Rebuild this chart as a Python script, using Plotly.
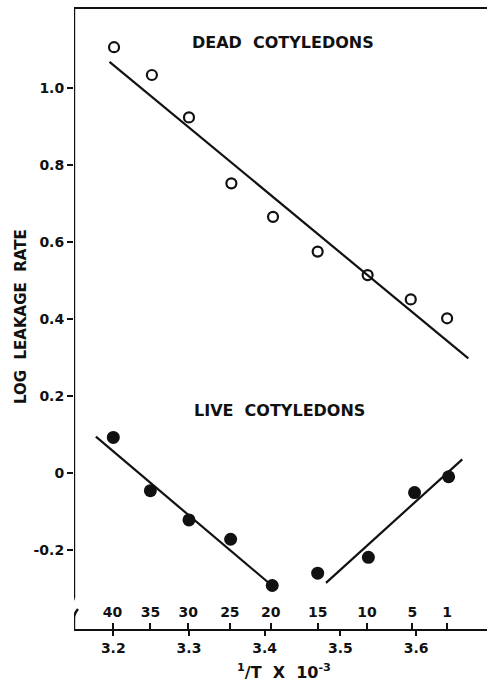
import plotly.graph_objects as go

# ---- data ----
temp_labels = ["40", "35", "30", "25", "20", "15", "10", "5", "1"]
temp_pos = [3.199, 3.249, 3.299, 3.354, 3.408, 3.470, 3.535, 3.595, 3.641]

inv_t_ticks = [3.2, 3.3, 3.4, 3.5, 3.6]
inv_t_labels = ["3.2", "3.3", "3.4", "3.5", "3.6"]

y_ticks = [-0.2, 0, 0.2, 0.4, 0.6, 0.8, 1.0]
y_labels = ["-0.2", "0", "0.2", "0.4", "0.6", "0.8", "1.0"]

dead_x = [3.201, 3.251, 3.300, 3.356, 3.411, 3.470, 3.536, 3.593, 3.641]
dead_y = [1.105, 1.033, 0.923, 0.752, 0.665, 0.575, 0.514, 0.451, 0.402]

live_x = [3.200, 3.249, 3.300, 3.355, 3.410, 3.470, 3.537, 3.598, 3.643]
live_y = [0.093, -0.045, -0.121, -0.171, -0.291, -0.259, -0.218, -0.050, -0.009]

dead_fit_x = [3.195, 3.669]
dead_fit_y = [1.067, 0.298]
live_fit1_x = [3.177, 3.404]
live_fit1_y = [0.095, -0.282]
live_fit2_x = [3.481, 3.661]
live_fit2_y = [-0.284, 0.036]

# ---- layout geometry ----
W, H = 487, 688
ML, MR, MT, MB = 74, 0, 9, 59
XR = [3.1481, 3.6937]
YR = [-0.4038, 1.2041]
pw, ph = W - ML - MR, H - MT - MB

def px2x(px):
    return XR[0] + (px - ML) / pw * (XR[1] - XR[0])

def px2y(py):
    return YR[1] - (py - MT) / ph * (YR[1] - YR[0])

def px2paper_y(py):
    return (H - MB - py) / ph

FONT = "DejaVu Sans"
BLACK = "#111111"

fig = go.Figure()

line_style = dict(color=BLACK, width=2.2)
fig.add_trace(go.Scatter(x=dead_fit_x, y=dead_fit_y, mode="lines", line=line_style, hoverinfo="skip"))
fig.add_trace(go.Scatter(x=live_fit1_x, y=live_fit1_y, mode="lines", line=line_style, hoverinfo="skip"))
fig.add_trace(go.Scatter(x=live_fit2_x, y=live_fit2_y, mode="lines", line=line_style, hoverinfo="skip"))

fig.add_trace(go.Scatter(
    x=dead_x, y=dead_y, mode="markers", name="Dead cotyledons",
    marker=dict(symbol="circle-open", size=10, color=BLACK, line=dict(width=2.2, color=BLACK)),
))
fig.add_trace(go.Scatter(
    x=live_x, y=live_y, mode="markers", name="Live cotyledons",
    marker=dict(symbol="circle", size=13, color=BLACK),
))
# invisible trace to activate the temperature axis
fig.add_trace(go.Scatter(x=temp_pos, y=[0] * len(temp_pos), xaxis="x2", mode="markers",
                         marker=dict(opacity=0), hoverinfo="skip", showlegend=False))

# y-axis line with a break near the bottom
x0 = XR[0]
shapes = [
    dict(type="line", xref="x", yref="y", x0=x0, x1=x0, y0=px2y(598), y1=YR[1],
         line=dict(color=BLACK, width=2.4)),
    dict(type="line", xref="x", yref="y", x0=x0, x1=px2x(70), y0=px2y(598), y1=px2y(606),
         line=dict(color=BLACK, width=2.4)),
    dict(type="path", xref="x", yref="y",
         path=f"M {x0},{px2y(629)} L {x0},{px2y(618)} Q {x0},{px2y(614)} {px2x(78)},{px2y(609)}",
         line=dict(color=BLACK, width=2.4)),
]

annotations = [
    dict(x=3.424, y=1.116, xref="x", yref="y", text="DEAD  COTYLEDONS", showarrow=False,
         font=dict(family=FONT, size=16, color=BLACK, weight="bold")),
    dict(x=3.42, y=0.162, xref="x", yref="y", text="LIVE  COTYLEDONS", showarrow=False,
         font=dict(family=FONT, size=16, color=BLACK, weight="bold")),
    dict(x=(21 - ML) / pw, y=px2paper_y(317), xref="paper", yref="paper",
         xanchor="center", yanchor="middle",
         text="LOG  LEAKAGE  RATE", textangle=-90, showarrow=False,
         font=dict(family=FONT, size=15, color=BLACK, weight="bold")),
    dict(x=(284 - ML) / pw, y=px2paper_y(659), xref="paper", yref="paper", yanchor="top",
         text="<sup>1</sup>/T  X  10<sup>-3</sup>", showarrow=False,
         font=dict(family=FONT, size=16, color=BLACK, weight="bold")),
]

tickfont = dict(family=FONT, size=14, color=BLACK, weight="bold")

fig.update_layout(
    width=W, height=H,
    margin=dict(l=ML, r=MR, t=MT, b=MB),
    paper_bgcolor="white", plot_bgcolor="white",
    showlegend=False,
    shapes=shapes,
    annotations=annotations,
    xaxis=dict(
        range=XR, showgrid=False, zeroline=False,
        showline=True, linecolor=BLACK, linewidth=2.4, mirror=True,
        tickmode="array", tickvals=inv_t_ticks, ticktext=inv_t_labels,
        ticks="outside", ticklen=5, tickwidth=2, tickcolor=BLACK,
        tickfont=tickfont,
    ),
    xaxis2=dict(
        range=XR, overlaying="x", side="top", anchor="free", position=0,
        showgrid=False, zeroline=False, showline=False,
        tickmode="array", tickvals=temp_pos, ticktext=temp_labels,
        ticks="outside", ticklen=6, tickwidth=2, tickcolor=BLACK,
        tickfont=tickfont,
    ),
    yaxis=dict(
        range=YR, showgrid=False, zeroline=False, showline=False,
        tickmode="array", tickvals=y_ticks, ticktext=y_labels,
        ticks="outside", ticklen=6, tickwidth=2, tickcolor=BLACK,
        tickfont=tickfont,
    ),
)

fig.write_html("out.html", config={"displayModeBar": False},
               post_script="document.body.style.margin='0px';")
